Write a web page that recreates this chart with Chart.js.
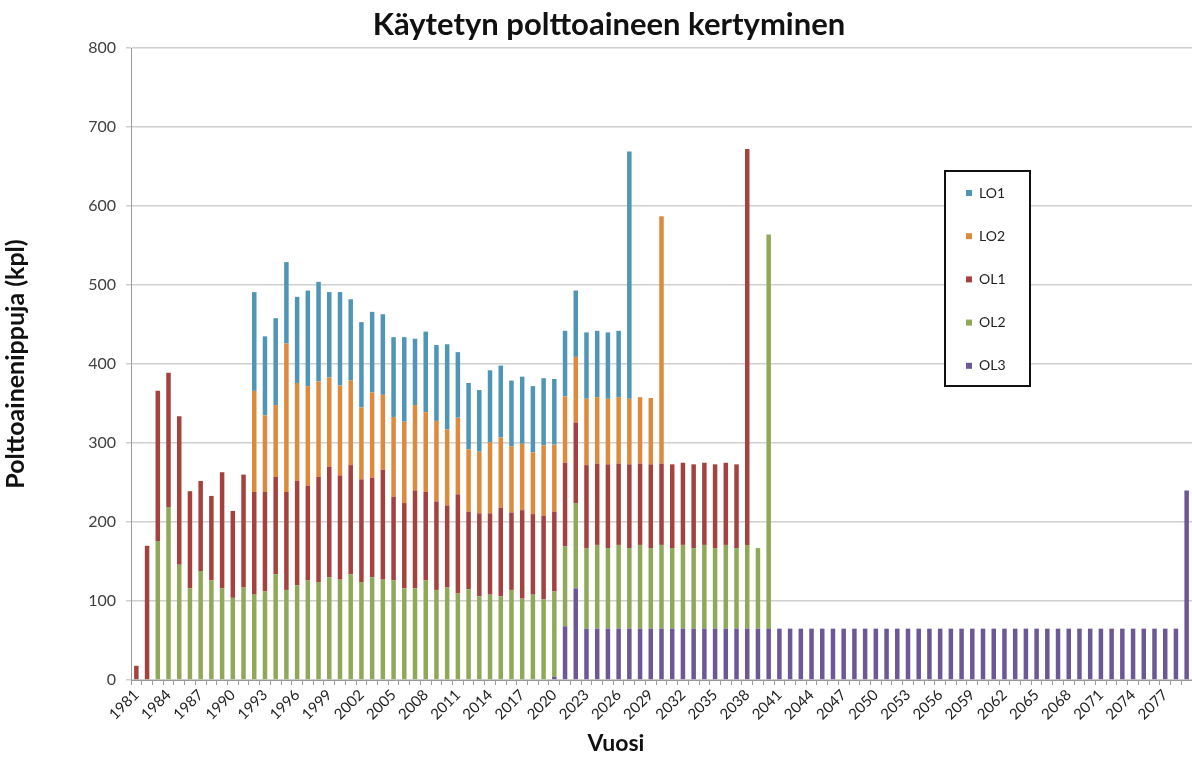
<!DOCTYPE html>
<html>
<head>
<meta charset="utf-8">
<title>Käytetyn polttoaineen kertyminen</title>
<script src="https://cdn.jsdelivr.net/npm/chart.js@4/dist/chart.umd.min.js"></script>
<style>
  html, body { margin: 0; padding: 0; background: #fff; }
  canvas { display: block; }
</style>
</head>
<body>
<canvas id="fuelChart" width="1192" height="758"></canvas>
<script>
// Years on the x axis, 1981-2079
const firstYear = 1981;
const lastYear = 2079;
const years = [];
for (let y = firstYear; y <= lastYear; y++) years.push(String(y));

// Spent fuel bundles per unit and year (kpl)
const ol3 = [
    0, 0, 0, 0, 0, 0, 0, 0, 0, 0,
    0, 0, 0, 0, 0, 0, 0, 0, 0, 0,
    0, 0, 0, 0, 0, 0, 0, 0, 0, 0,
    0, 0, 0, 0, 0, 0, 0, 0, 0, 4,
    68, 116, 65, 65, 65, 65, 65, 65, 65, 65,
    65, 65, 65, 65, 65, 65, 65, 65, 65, 65,
    65, 65, 65, 65, 65, 65, 65, 65, 65, 65,
    65, 65, 65, 65, 65, 65, 65, 65, 65, 65,
    65, 65, 65, 65, 65, 65, 65, 65, 65, 65,
    65, 65, 65, 65, 65, 65, 65, 65, 240
];
const ol2 = [
    0, 0, 176, 219, 146, 116, 138, 126, 116, 104,
    117, 108, 112, 134, 114, 120, 126, 124, 130, 127,
    134, 124, 130, 127, 126, 116, 116, 126, 114, 117,
    110, 115, 106, 108, 106, 114, 103, 108, 102, 108,
    101, 108, 102, 106, 102, 106, 102, 106, 102, 106,
    102, 106, 102, 106, 102, 106, 102, 106, 102, 499,
    0, 0, 0, 0, 0, 0, 0, 0, 0, 0,
    0, 0, 0, 0, 0, 0, 0, 0, 0, 0,
    0, 0, 0, 0, 0, 0, 0, 0, 0, 0,
    0, 0, 0, 0, 0, 0, 0, 0, 0
];
const ol1 = [
    18, 170, 190, 170, 188, 123, 114, 107, 147, 110,
    143, 130, 126, 123, 124, 132, 120, 133, 140, 132,
    138, 130, 126, 139, 106, 108, 124, 112, 112, 104,
    125, 98, 105, 103, 112, 98, 112, 102, 106, 101,
    106, 102, 105, 103, 106, 103, 106, 103, 106, 103,
    106, 104, 106, 104, 106, 104, 106, 501, 0, 0,
    0, 0, 0, 0, 0, 0, 0, 0, 0, 0,
    0, 0, 0, 0, 0, 0, 0, 0, 0, 0,
    0, 0, 0, 0, 0, 0, 0, 0, 0, 0,
    0, 0, 0, 0, 0, 0, 0, 0, 0
];
const lo2 = [
    0, 0, 0, 0, 0, 0, 0, 0, 0, 0,
    0, 128, 97, 91, 188, 124, 126, 121, 113, 114,
    107, 91, 108, 95, 101, 103, 108, 101, 102, 96,
    97, 79, 78, 90, 89, 84, 84, 78, 89, 85,
    84, 83, 84, 84, 83, 84, 83, 84, 84, 313,
    0, 0, 0, 0, 0, 0, 0, 0, 0, 0,
    0, 0, 0, 0, 0, 0, 0, 0, 0, 0,
    0, 0, 0, 0, 0, 0, 0, 0, 0, 0,
    0, 0, 0, 0, 0, 0, 0, 0, 0, 0,
    0, 0, 0, 0, 0, 0, 0, 0, 0
];
const lo1 = [
    0, 0, 0, 0, 0, 0, 0, 0, 0, 0,
    0, 125, 100, 110, 103, 109, 121, 126, 108, 118,
    103, 108, 102, 102, 101, 107, 84, 102, 96, 108,
    83, 84, 78, 91, 91, 83, 85, 84, 85, 83,
    83, 84, 84, 84, 84, 84, 313, 0, 0, 0,
    0, 0, 0, 0, 0, 0, 0, 0, 0, 0,
    0, 0, 0, 0, 0, 0, 0, 0, 0, 0,
    0, 0, 0, 0, 0, 0, 0, 0, 0, 0,
    0, 0, 0, 0, 0, 0, 0, 0, 0, 0,
    0, 0, 0, 0, 0, 0, 0, 0, 0
];

const yTicks = [0, 100, 200, 300, 400, 500, 600, 700, 800];

const FONT = 'Lato, "Open Sans", sans-serif';

// Chart title, x axis title and the framed legend box (top item = top of stack)
const decorations = {
    id: 'decorations',
    afterDraw(chart) {
        const ctx = chart.ctx;
        ctx.save();

        ctx.fillStyle = '#111';
        ctx.textAlign = 'center';
        ctx.textBaseline = 'middle';
        ctx.font = 'bold 31px ' + FONT;
        ctx.fillText('Käytetyn polttoaineen kertyminen', 609, 25);
        ctx.font = 'bold 23px ' + FONT;
        ctx.fillText('Vuosi', 616, 744);

        const x = 945, y = 171, w = 85, h = 215;
        ctx.fillStyle = '#fff';
        ctx.fillRect(x, y, w, h);
        ctx.lineWidth = 2;
        ctx.strokeStyle = '#111';
        ctx.strokeRect(x, y, w, h);
        ctx.font = '14px ' + FONT;
        ctx.textAlign = 'left';
        const items = chart.data.datasets.slice().reverse();
        items.forEach((ds, i) => {
            const cy = y + 22 + i * 43.2;
            ctx.fillStyle = ds.backgroundColor;
            ctx.fillRect(x + 21, cy - 3, 6, 6);
            ctx.fillStyle = '#222';
            ctx.fillText(ds.label, x + 34, cy);
        });
        ctx.restore();
    }
};

const makeSet = (label, data, color) => ({
    label: label,
    data: data,
    backgroundColor: color,
    borderWidth: 0,
    barPercentage: 0.42,
    categoryPercentage: 1.0
});

const ctx = document.getElementById('fuelChart').getContext('2d');
new Chart(ctx, {
    type: 'bar',
    data: {
        labels: years,
        datasets: [
            makeSet('OL3', ol3, '#6c5797'),
            makeSet('OL2', ol2, '#90a959'),
            makeSet('OL1', ol1, '#a3423f'),
            makeSet('LO2', lo2, '#dc8a3d'),
            makeSet('LO1', lo1, '#4f95b6')
        ]
    },
    options: {
        responsive: false,
        animation: false,
        layout: { padding: { left: 0, right: 0, top: 48, bottom: 0 } },
        plugins: {
            legend: { display: false },
            tooltip: { enabled: false },
            title: { display: false }
        },
        scales: {
            x: {
                stacked: true,
                grid: { drawOnChartArea: false, color: '#9a9a9a', tickLength: 5 },
                border: { color: '#9a9a9a' },
                ticks: {
                    autoSkip: false,
                    maxRotation: 45,
                    minRotation: 45,
                    color: '#222',
                    font: { family: FONT, size: 15 },
                    padding: 1,
                    callback: (value, index) => (index % 3 === 0 ? years[index] : '')
                },
                afterFit: scale => {
                    scale.height = 78;
                    scale.paddingRight = 0;
                }
            },
            y: {
                stacked: true,
                min: 0,
                max: 800,
                afterBuildTicks: scale => { scale.ticks = yTicks.map(v => ({ value: v })); },
                grid: { color: '#cfcfcf', lineWidth: 1.5, tickLength: 5 },
                border: { color: '#9a9a9a' },
                ticks: {
                    color: '#404040',
                    font: { family: FONT, size: 16 },
                    padding: 10
                },
                title: {
                    display: true,
                    text: 'Polttoainenippuja (kpl)',
                    color: '#111',
                    font: { family: FONT, size: 25, weight: 'bold' },
                    padding: { top: 1, bottom: 0 }
                },
                afterFit: scale => { scale.width = 131; }
            }
        }
    },
    plugins: [decorations]
});
</script>
</body>
</html>
